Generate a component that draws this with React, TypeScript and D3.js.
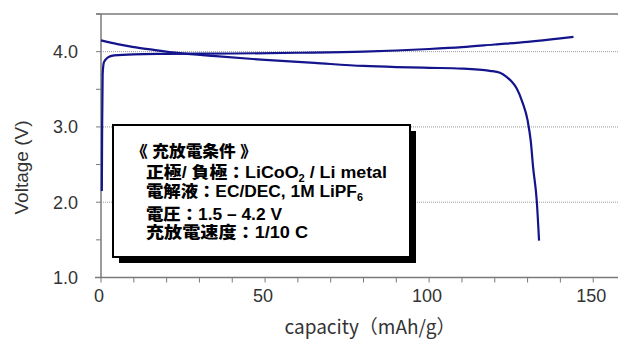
import React from 'react';
import * as d3 from 'd3';

// charge curve (capacity mAh/g, voltage V)
const chargeCap = [0.25, 0.35, 0.5, 0.9, 2, 4, 10, 20, 40, 60, 80, 100, 110, 120, 130, 140, 144];
const chargeV = [2.15, 3.0, 3.7, 3.86, 3.92, 3.95, 3.965, 3.97, 3.975, 3.985, 4.0, 4.035, 4.06, 4.095, 4.13, 4.175, 4.195];

// discharge curve
const dischargeCap = [0, 5, 10, 15, 24, 35, 50, 65, 80, 90, 100, 110, 118.5, 121.6, 123.6, 125.2, 126.7, 128.5, 130, 131, 131.7, 132.8, 133.5];
const dischargeV = [4.15, 4.1, 4.06, 4.03, 3.98, 3.94, 3.89, 3.85, 3.81, 3.795, 3.785, 3.775, 3.745, 3.72, 3.665, 3.6, 3.51, 3.32, 3.09, 2.8, 2.46, 2.02, 1.49];

const xTickLabels = [0, 50, 100, 150];
const yTickLabels = [1.0, 2.0, 3.0, 4.0];
const gridValues = [2.0, 3.0, 4.0];

const W = 618;
const H = 340;
const margin = { top: 14, right: -8, bottom: 62.5, left: 101 };
const lineColor = '#14148c';
const axisColor = '#7a7a7a';
const labelFont = '"Liberation Sans", Arial, sans-serif';
const jpFont = '"Noto Sans CJK JP", sans-serif';
const boxFont = '"Liberation Sans", "Noto Sans CJK JP", sans-serif';

export default function App() {
  const x = d3.scaleLinear().domain([0, 160]).range([margin.left, W - margin.right]);
  const y = d3.scaleLinear().domain([1, 4.5]).range([H - margin.bottom, margin.top]);

  const line = d3.line<[number, number]>()
    .x(d => x(d[0]))
    .y(d => y(d[1]))
    .curve(d3.curveMonotoneX);

  const charge = chargeCap.map((c, i) => [c, chargeV[i]] as [number, number]);
  const discharge = dischargeCap.map((c, i) => [c, dischargeV[i]] as [number, number]);

  const x0 = x(0);
  const x1 = x(160);
  const yb = y(1);
  const yt = y(4.5);

  const yTicks = d3.range(1, 4.51, 0.5);
  const xTicks = d3.range(0, 161, 10);

  // legend box
  const box = { x: 113, y: 125, w: 297, h: 132 };
  const sh = 6;

  return (
    <svg width={W} height={H} style={{ position: 'absolute', left: 0, top: 0, background: '#fff' }}>
      {gridValues.map(v => (
        <line key={v} x1={x0} x2={x1} y1={y(v)} y2={y(v)} stroke="#9a9a9a" strokeWidth={1} strokeDasharray="1,1" />
      ))}

      {/* axes */}
      <line x1={x0 - 5} x2={x1} y1={yt} y2={yt} stroke={axisColor} strokeWidth={1.5} />
      <line x1={x0 - 6} x2={x1} y1={yb} y2={yb} stroke={axisColor} strokeWidth={1.5} />
      <line x1={x0} x2={x0} y1={yt} y2={yb} stroke={axisColor} strokeWidth={1.5} />
      {yTicks.map(v => (
        <line key={v} x1={x0 - 5} x2={x0} y1={y(v)} y2={y(v)} stroke={axisColor} strokeWidth={1} />
      ))}
      {xTicks.map(v => (
        <line key={v} x1={x(v)} x2={x(v)} y1={yb} y2={yb + 5} stroke={axisColor} strokeWidth={1} />
      ))}

      {yTickLabels.map(v => (
        <text key={v} x={x0 - 23} y={y(v)} dy="0.35em" textAnchor="end" fontFamily={labelFont} fontSize={18} fill="#333">
          {v.toFixed(1)}
        </text>
      ))}
      {xTickLabels.map(v => (
        <text key={v} x={x(v) - 2} y={yb + 24} textAnchor="middle" fontFamily={labelFont} fontSize={18} fill="#333">
          {v}
        </text>
      ))}

      <text transform={`translate(28, 167.5) rotate(-90)`} textAnchor="middle" fontFamily={labelFont} fontSize={19} fill="#333">
        Voltage (V)
      </text>
      <text x={370} y={334} textAnchor="middle" fontFamily={jpFont} fontSize={19} fill="#333">
        capacity（mAh/g）
      </text>

      {/* curves */}
      <path d={line(charge) ?? ''} fill="none" stroke={lineColor} strokeWidth={2.2} />
      <path d={line(discharge) ?? ''} fill="none" stroke={lineColor} strokeWidth={2.2} />

      {/* conditions box */}
      <rect x={box.x + sh} y={box.y + sh} width={box.w} height={box.h} fill="#000" />
      <rect x={box.x} y={box.y} width={box.w} height={box.h} fill="#fff" stroke="#000" strokeWidth={2} />
      <g fontFamily={boxFont} fontSize={16} fontWeight={900} fill="#000">
        <text x={131} y={157} textLength={126} lengthAdjust="spacingAndGlyphs">《 充放電条件 》</text>
        <text x={146} y={178} textLength={241} lengthAdjust="spacingAndGlyphs">
          正極/ 負極：LiCoO<tspan fontSize={10} dy={4}>2</tspan><tspan dy={-4}> / Li metal</tspan>
        </text>
        <text x={146} y={197} textLength={217} lengthAdjust="spacingAndGlyphs">
          電解液：EC/DEC, 1M LiPF<tspan fontSize={10} dy={4}>6</tspan>
        </text>
        <text x={146} y={220} textLength={136} lengthAdjust="spacingAndGlyphs">電圧：1.5 – 4.2 V</text>
        <text x={146} y={238} textLength={162} lengthAdjust="spacingAndGlyphs">充放電速度：1/10 C</text>
      </g>
    </svg>
  );
}
